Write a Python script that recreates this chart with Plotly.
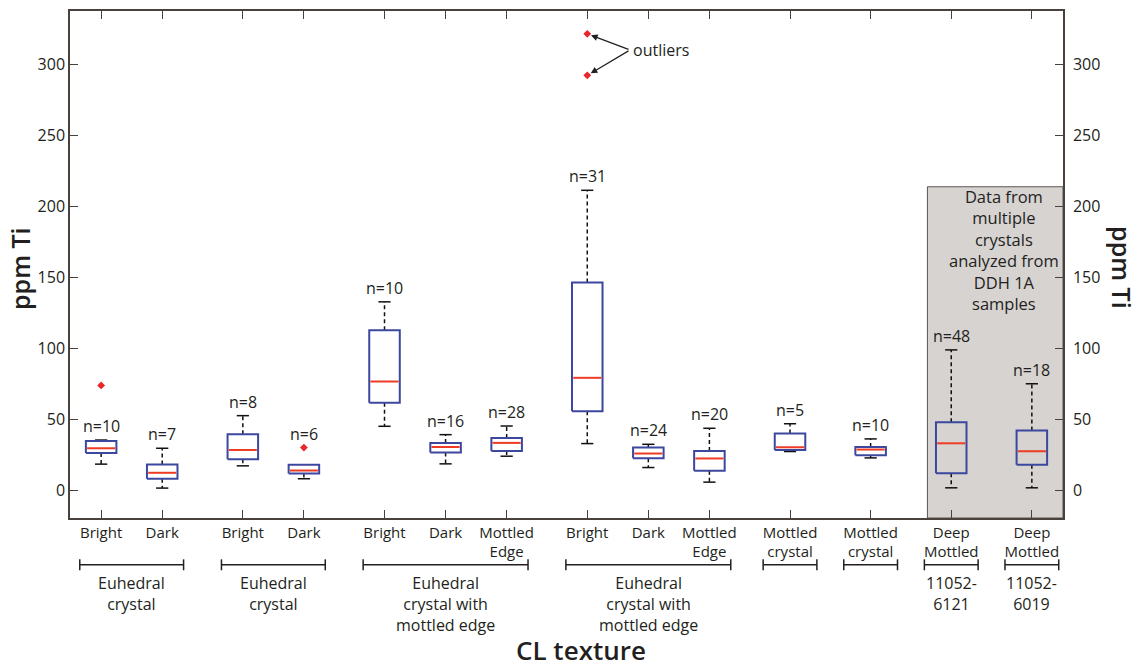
import plotly.graph_objects as go

# ---------------- data ----------------
categories = ["Bright", "Dark", "Bright", "Dark", "Bright", "Dark", "Mottled<br>Edge",
              "Bright", "Dark", "Mottled<br>Edge", "Mottled<br>crystal", "Mottled<br>crystal",
              "Deep<br>Mottled", "Deep<br>Mottled"]
group_labels = ["Euhedral<br>crystal", "Euhedral<br>crystal",
                "Euhedral<br>crystal with<br>mottled edge", "Euhedral<br>crystal with<br>mottled edge",
                "", "", "11052-<br>6121", "11052-<br>6019"]
group_sizes = [2, 2, 3, 3, 1, 1, 1, 1]

n_counts = [10, 7, 8, 6, 10, 16, 28, 31, 24, 20, 5, 10, 48, 18]
whisker_low = [18.3, 1.4, 17.1, 8.0, 45.0, 18.5, 23.9, 32.8, 15.9, 5.6, 27.2, 22.7, 1.6, 1.6]
q1 = [26.2, 8.0, 21.8, 11.7, 61.6, 26.5, 27.6, 55.7, 22.5, 13.6, 28.3, 24.6, 11.9, 17.8]
median = [29.5, 12.2, 28.3, 13.8, 76.6, 30.4, 33.3, 79.2, 25.8, 22.3, 30.2, 28.6, 33.0, 27.4]
q3 = [34.7, 18.0, 39.3, 17.8, 112.7, 33.3, 36.8, 146.4, 30.0, 27.6, 40.0, 30.4, 47.8, 42.0]
whisker_high = [35.3, 29.5, 52.5, 17.8, 132.8, 39.1, 45.2, 211.5, 32.3, 43.6, 46.8, 36.1, 98.9, 75.0]
outliers = [[73.8], [], [], [30.0], [], [], [], [321.9, 292.6], [], [], [], [], [], []]

y_ticks = [0, 50, 100, 150, 200, 250, 300]
shaded_top = 214  # top of the DDH 1A panel, ppm

# ---------------- styling ----------------
FONT = "Open Sans"
TXT = "#231f20"
AXC = "#4a403c"
BOX_C = "#3c479e"
MED_C = "#ee3b24"
OUT_C = "#e8262b"
HALF = 0.25      # half box width (x units)
CAP = 0.1        # half cap width
GAP = 1.32       # spacing between groups
PLOT_H = 509     # plot height in px (for paper offsets)

# x positions of the boxes, grouped
xpos, spans = [], []
x = 1.0
for size in group_sizes:
    members = [x + i for i in range(size)]
    xpos += members
    spans.append((members[0], members[-1]))
    x = members[-1] + GAP

fig = go.Figure()

# whiskers (dashed) and caps
wx, wy, cx, cy = [], [], [], []
for xi, lo, a, b, hi in zip(xpos, whisker_low, q1, q3, whisker_high):
    if hi > b:
        wx += [xi, xi, None]; wy += [b, hi, None]
        cx += [xi - CAP, xi + CAP, None]; cy += [hi, hi, None]
    if lo < a:
        wx += [xi, xi, None]; wy += [a, lo, None]
        cx += [xi - CAP, xi + CAP, None]; cy += [lo, lo, None]
fig.add_trace(go.Scatter(x=wx, y=wy, mode="lines", line=dict(color="#111", width=1.5, dash="4px,3px"),
                         hoverinfo="skip", showlegend=False))
fig.add_trace(go.Scatter(x=cx, y=cy, mode="lines", line=dict(color="#111", width=1.5),
                         hoverinfo="skip", showlegend=False))

# boxes
bx, by = [], []
for xi, a, b in zip(xpos, q1, q3):
    bx += [xi - HALF, xi + HALF, xi + HALF, xi - HALF, xi - HALF, None]
    by += [a, a, b, b, a, None]
fig.add_trace(go.Scatter(x=bx, y=by, mode="lines", line=dict(color=BOX_C, width=2),
                         hoverinfo="skip", showlegend=False))

# medians
mx, my = [], []
for xi, m in zip(xpos, median):
    mx += [xi - HALF + 0.02, xi + HALF - 0.02, None]
    my += [m, m, None]
fig.add_trace(go.Scatter(x=mx, y=my, mode="lines", line=dict(color=MED_C, width=2),
                         hoverinfo="skip", showlegend=False))

# outliers
ox, oy = [], []
for xi, pts in zip(xpos, outliers):
    for p in pts:
        ox.append(xi); oy.append(p)
fig.add_trace(go.Scatter(x=ox, y=oy, mode="markers",
                         marker=dict(color=OUT_C, size=6, symbol="diamond"),
                         hoverinfo="skip", showlegend=False))

# empty trace so the right-hand axis is drawn
fig.add_trace(go.Scatter(x=[None], y=[None], yaxis="y2", showlegend=False, hoverinfo="skip"))

shapes = []
y_range = [-19.7, 338]
x_range = [0.49, 16.75]
# shaded DDH 1A panel
shapes.append(dict(type="rect", xref="x", yref="y", x0=xpos[12] - 0.39, x1=x_range[1],
                   y0=y_range[0], y1=shaded_top, fillcolor="#d6d3d0",
                   line=dict(color="#5b5552", width=1), layer="below"))


def py(off):
    """pixel offset below the plot area -> paper coordinate"""
    return -off / PLOT_H


annotations = []
# group brackets and labels below the axis
for (a, b), label in zip(spans, group_labels):
    pad = 0.35 if b > a else 0.44
    x0, x1 = a - pad, b + pad
    shapes.append(dict(type="line", xref="x", yref="paper", x0=x0, x1=x1, y0=py(47), y1=py(47),
                       line=dict(color=TXT, width=1.5)))
    for xe in (x0, x1):
        shapes.append(dict(type="line", xref="x", yref="paper", x0=xe, x1=xe, y0=py(41.5), y1=py(52.5),
                           line=dict(color=TXT, width=1.5)))
    if label:
        annotations.append(dict(x=(x0 + x1) / 2, y=py(53), xref="x", yref="paper", text=label,
                                showarrow=False, xanchor="center", yanchor="top", borderpad=0,
                                font=dict(family=FONT, size=16, color=TXT)))

# sample counts
for xi, hi, pts, n in zip(xpos, whisker_high, outliers, n_counts):
    top = max([hi] + [p for p in pts if p - hi < 20])
    annotations.append(dict(x=xi, y=top, xref="x", yref="y", text=f"n={n}", showarrow=False,
                            xanchor="center", yanchor="bottom", yshift=1,
                            font=dict(family=FONT, size=16, color=TXT)))

# outlier callout
tail_x, tail_y = 9.66, 310.5
annotations.append(dict(x=tail_x + 0.02, y=tail_y, xref="x", yref="y", text="outliers", showarrow=False,
                        xanchor="left", yanchor="middle", font=dict(family=FONT, size=16, color=TXT)))
for p in outliers[7]:
    annotations.append(dict(x=xpos[7], y=p, xref="x", yref="y", ax=tail_x, ay=tail_y,
                            axref="x", ayref="y", text="", showarrow=True, arrowhead=2,
                            arrowsize=1.1, arrowwidth=1.2, arrowcolor=TXT, standoff=4))

# panel note
annotations.append(dict(x=15.79, y=169.5, xref="x", yref="y",
                        text="Data from<br>multiple<br>crystals<br>analyzed from<br>DDH 1A<br>samples",
                        showarrow=False, xanchor="center", yanchor="middle",
                        font=dict(family=FONT, size=16.5, color=TXT)))

# axis titles
annotations.append(dict(x=-0.0504, y=0.493, xref="paper", yref="paper", text="ppm Ti", textangle=-90,
                        showarrow=False, xanchor="center", yanchor="middle",
                        font=dict(family=FONT, size=25, color=TXT, weight=600)))
annotations.append(dict(x=1.0594, y=0.493, xref="paper", yref="paper", text="ppm Ti", textangle=90,
                        showarrow=False, xanchor="center", yanchor="middle",
                        font=dict(family=FONT, size=25, color=TXT, weight=600)))
annotations.append(dict(x=0.5146, y=0, xref="paper", yref="paper", text="CL texture",
                        showarrow=False, xanchor="center", yanchor="bottom", yshift=-151, borderpad=0,
                        font=dict(family=FONT, size=26, color=TXT, weight=600)))

axis_common = dict(showline=True, linecolor=AXC, linewidth=1.5, ticks="inside", ticklen=8,
                   tickcolor=AXC, tickwidth=1.3, showgrid=False, zeroline=False)

fig.update_layout(
    width=1146, height=669,
    margin=dict(l=70, r=83, t=9, b=151),
    paper_bgcolor="white", plot_bgcolor="white",
    font=dict(family=FONT, color=TXT),
    xaxis=dict(range=x_range, tickvals=xpos, ticktext=categories, mirror="ticks",
               tickfont=dict(size=15, color=TXT), **axis_common),
    yaxis=dict(range=y_range, tickvals=y_ticks, tickfont=dict(size=16, color=TXT), **axis_common),
    yaxis2=dict(range=y_range, tickvals=y_ticks, overlaying="y", side="right",
                ticklabelstandoff=5, tickfont=dict(size=16, color=TXT), **axis_common),
    shapes=shapes, annotations=annotations,
)

fig.write_html("out.html")
